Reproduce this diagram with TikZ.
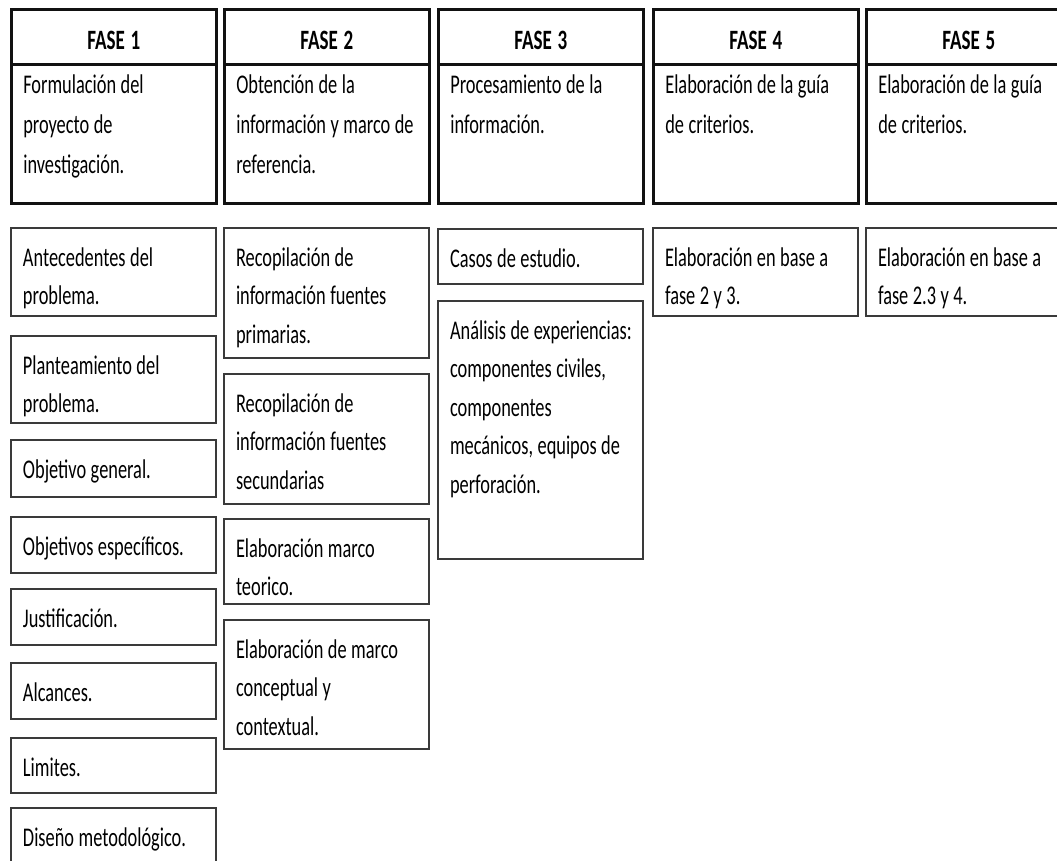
\documentclass[tikz,border=0pt]{standalone}
\usepackage{fontspec}
\setmainfont{Carlito}[FakeStretch=0.68]
\usepackage{xcolor}
\definecolor{tinta}{HTML}{111111}
\definecolor{borde}{HTML}{3A3A3A}
\usepackage{tikz}

\tikzset{
  espacio/.style={execute at begin node={\spaceskip=4.5pt plus 1pt minus 1pt\relax\xspaceskip=4.5pt\relax}},
  fase/.style={draw=tinta, line width=2.6pt, anchor=north west, inner xsep=12pt, inner ysep=0pt,
    text width=181pt, align=center, text height=40pt, text depth=15pt, espacio,
    font=\fontsize{28}{39}\selectfont\bfseries},
  meta/.style={draw=tinta, line width=2.6pt, anchor=north west, inner xsep=12pt, inner ysep=0pt,
    text width=181pt, align=left, text height=29pt, text depth=110pt, espacio,
    font=\fontsize{27}{40}\selectfont},
  tarea/.style={draw=borde, line width=2pt, anchor=north west, inner xsep=12pt, inner ysep=0pt,
    text width=181pt, align=left, text height=38pt, text depth=\the\numexpr#1-38\relax pt, espacio,
    font=\fontsize{27}{38.5}\selectfont}
}

\begin{document}
\begin{tikzpicture}[x=1pt, y=-1pt]
  \useasboundingbox (0,0) rectangle (1057,861);
  \clip (0,0) rectangle (1057,861);

  % --- Cabeceras de las fases ---
  \node[fase] (f1) at (10,8) {FASE 1};
  \node[meta] (d1) at (10,63) {Formulación del\\ proyecto de\\ investigación.};

  \node[fase] (f2) at (223,8) {FASE 2};
  \node[meta] (d2) at (223,63) {Obtención de la\\ \mbox{información y marco de}\\ referencia.};

  \node[fase] (f3) at (437,8) {FASE 3};
  \node[meta] (d3) at (437,63) {Procesamiento de la\\ información.};

  \node[fase] (f4) at (652,8) {FASE 4};
  \node[meta] (d4) at (652,63) {Elaboración de la guía\\ de criterios.};

  \node[fase] (f5) at (865,8) {FASE 5};
  \node[meta] (d5) at (865,63) {Elaboración de la guía\\ de criterios.};

  % --- Fase 1: actividades ---
  \node[tarea=88] (antecedentes) at (10,227) {Antecedentes del\\ problema.};
  \node[tarea=87] (planteamiento) at (10,335) {Planteamiento del\\ problema.};
  \node[tarea=57] (objgeneral) at (10,439) {Objetivo general.};
  \node[tarea=56] (objespecificos) at (10,516) {Objetivos específicos.};
  \node[tarea=56] (justificacion) at (10,588) {Justificación.};
  \node[tarea=56] (alcances) at (10,662) {Alcances.};
  \node[tarea=55] (limites) at (10,737) {Limites.};
  \node[tarea=60] (diseno) at (10,807) {Diseño metodológico.};

  % --- Fase 2: actividades ---
  \node[tarea=130] (primarias) at (223,227) {Recopilación de\\ información fuentes\\ primarias.};
  \node[tarea=130] (secundarias) at (223,373) {Recopilación de\\ información fuentes\\ secundarias};
  \node[tarea=85] (teorico) at (223,518) {Elaboración marco\\ teorico.};
  \node[tarea=129] (conceptual) at (223,619) {Elaboración de marco\\ conceptual y\\ contextual.};

  % --- Fase 3: actividades ---
  \node[tarea=55] (casos) at (437,228) {Casos de estudio.};
  \node[tarea=258] (analisis) at (437,300) {\mbox{Análisis de experiencias:}\\ componentes civiles,\\ componentes\\ \mbox{mecánicos, equipos de}\\ perforación.};

  % --- Fases 4 y 5: actividades ---
  \node[tarea=88] (base4) at (652,227) {Elaboración en base a\\ fase 2 y 3.};
  \node[tarea=88] (base5) at (865,227) {Elaboración en base a\\ fase 2.3 y 4.};
\end{tikzpicture}
\end{document}
